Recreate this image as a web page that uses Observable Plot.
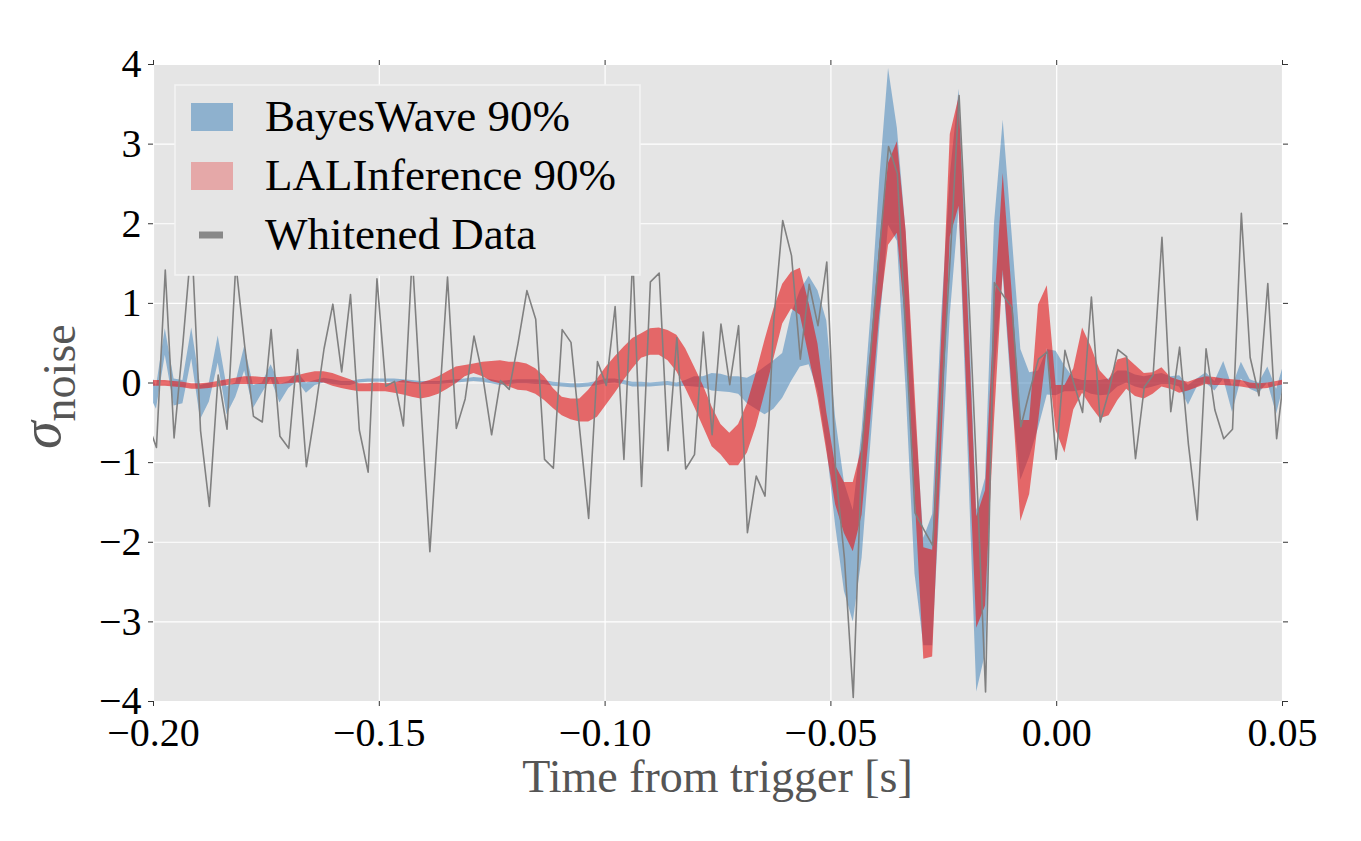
<!DOCTYPE html>
<html><head><meta charset="utf-8">
<script src="https://cdn.jsdelivr.net/npm/d3@7"></script>
<script src="https://cdn.jsdelivr.net/npm/@observablehq/plot@0.6"></script>
<style>body{margin:0;background:#fff;} #chart{width:1361px;height:841px;}</style>
</head><body><div id="chart"></div>
<script>
// Sampling of the whitened strain (512 Hz), first sample just left of the window
const sampleRate = 512;
const firstSampleTime = -0.2013;

const whitened = [
 -0.5, -0.81, 1.42, -0.69, 0.5, 1.8, -0.6, -1.55, 0.10, -0.58,
 1.5, 0.47, -0.42, -0.49, 0.67, -0.67, -0.82, 0.42, -1.05, -0.35,
 0.43, 0.99, 0.14, 1.11, -0.59, -1.12, 1.31, -0.04, 0.02, -0.54,
 1.6, -0.3, -2.12, -0.39, 1.33, -0.57, -0.2, 0.59, 0.08, -0.65,
 0.03, -0.08, 0.5, 1.16, 0.8, -0.96, -1.07, 0.67, 0.51, -0.6,
 -1.70, 0.27, -0.03, 0.96, -0.96, 1.6, -1.30, 1.27, 1.38, -0.85,
 0.57, -1.08, -0.9, 0.64, -0.65, 0.74, -0.02, 0.72, -1.88, -1.17,
 -1.42, 0.8, 2.04, 1.60, 0.30, 1.24, 0.72, 1.52, -1.1, -2.2,
 -3.95, -0.8, 0.42, 1.7, 2.97, 2.63, 0.5, -1.63, -1.84, -2.04,
 -0.22, 1.59, 3.61, 1.36, -1.16, -3.88, 1.26, 1.1, 0.95, -0.55,
 -0.1, 0.30, 0.39, -0.96, 0.41, 0.0, -0.37, 1.08, -0.49, -0.1,
 0.42, 0.33, -0.95, -0.05, 0.1, 1.83, -0.36, 0.45, -0.77, -1.72,
 0.43, -0.34, -0.70, -0.58, 2.13, 0.32, -0.16, 1.25, -0.70, 0.25
];

const bayesWaveLower = [
 -0.10, -0.33, 0.35, -0.29, -0.26, 0.30, -0.46, -0.24, 0.25, -0.40,
 -0.18, 0.15, -0.32, -0.13, 0.05, -0.25, -0.07, 0.02, -0.13, -0.03,
 0.00, -0.02, -0.03, -0.03, 0.00, 0.01, 0.01, 0.01, 0.01, 0.00,
 -0.01, -0.02, -0.02, -0.02, -0.01, 0.00, 0.01, 0.02, 0.01, -0.01,
 -0.03, -0.02, -0.01, -0.01, -0.02, -0.02, -0.04, -0.05, -0.06, -0.06,
 -0.05, -0.03, -0.01, 0.00, -0.02, -0.05, -0.05, -0.05, -0.04, -0.03,
 -0.05, -0.04, -0.05, -0.06, -0.10, -0.11, -0.12, -0.14, -0.26, -0.33,
 -0.40, -0.33, -0.19, 0.02, 0.20, 0.23, -0.10, -0.80, -1.79, -2.62,
 -3.00, -2.20, -0.75, 0.69, 1.98, 1.78, -0.10, -2.40, -3.30, -3.30,
 -1.20, 0.85, 2.19, -0.80, -3.88, -3.40, 0.02, 1.36, -0.20, -1.22,
 -0.93, -0.57, -0.15, -0.16, -0.11, -0.11, -0.09, -0.14, -0.16, -0.15,
 -0.05, 0.00, -0.05, -0.08, -0.05, -0.02, -0.02, -0.05, -0.28, -0.05,
 0.00, -0.10, 0.05, -0.37, 0.05, -0.08, -0.13, 0.00, -0.39, 0.05
];

const bayesWaveUpper = [
 0.25, -0.05, 0.68, 0.05, 0.03, 0.69, -0.03, 0.00, 0.59, -0.05,
 0.00, 0.46, -0.03, 0.00, 0.23, -0.02, 0.02, 0.13, 0.00, 0.03,
 0.06, 0.04, 0.02, 0.02, 0.04, 0.05, 0.05, 0.05, 0.05, 0.04,
 0.03, 0.02, 0.02, 0.02, 0.03, 0.04, 0.05, 0.07, 0.06, 0.04,
 0.02, 0.03, 0.04, 0.04, 0.04, 0.03, 0.01, 0.00, -0.01, -0.01,
 0.00, 0.02, 0.05, 0.05, 0.03, 0.01, 0.01, 0.00, 0.01, 0.02,
 0.00, 0.03, 0.08, 0.08, 0.12, 0.11, 0.08, 0.08, 0.06, 0.12,
 0.20, 0.28, 0.37, 0.86, 1.16, 1.34, 1.16, 0.78, -0.44, -1.25,
 -1.60, -0.60, 0.85, 2.55, 3.95, 3.20, 1.88, -0.30, -1.95, -1.65,
 0.80, 2.60, 3.69, 1.30, -1.60, -1.20, 1.98, 3.30, 1.88, 0.42,
 0.13, 0.15, 0.42, 0.40, 0.21, 0.06, 0.03, 0.03, 0.03, 0.05,
 0.15, 0.15, 0.10, 0.08, 0.10, 0.12, 0.08, 0.09, -0.03, 0.05,
 0.13, 0.02, 0.27, -0.05, 0.26, 0.04, 0.00, 0.20, -0.08, 0.30
];

const lalInferenceLower = [
 -0.04, -0.04, -0.04, -0.05, -0.06, -0.08, -0.08, -0.07, -0.05, -0.03,
 -0.02, -0.02, -0.02, -0.02, -0.02, -0.02, -0.01, 0.00, 0.01, 0.01,
 0.00, -0.04, -0.07, -0.09, -0.11, -0.11, -0.11, -0.11, -0.13, -0.15,
 -0.18, -0.20, -0.18, -0.14, -0.08, -0.01, 0.08, 0.12, 0.08, 0.02,
 -0.01, -0.05, -0.09, -0.10, -0.14, -0.22, -0.32, -0.41, -0.46, -0.49,
 -0.49, -0.43, -0.28, -0.13, 0.03, 0.18, 0.31, 0.35, 0.35, 0.28,
 0.14, -0.07, -0.30, -0.55, -0.80, -0.90, -1.04, -1.04, -0.88, -0.55,
 -0.13, 0.30, 0.74, 0.93, 0.85, 0.33, -0.19, -0.86, -1.53, -1.89,
 -2.12, -1.66, -0.44, 0.85, 1.73, 1.88, 0.69, -1.40, -3.47, -3.44,
 -0.86, 1.83, 2.22, -0.43, -3.08, -2.80, -0.50, 1.42, -0.08, -1.74,
 -1.40, -0.50, 0.43, -0.60, -0.88, -0.34, -0.13, -0.30, -0.45, -0.41,
 -0.22, -0.08, -0.17, -0.20, -0.14, -0.05, -0.08, -0.13, -0.10, -0.06,
 -0.02, -0.03, -0.03, -0.04, -0.05, -0.07, -0.08, -0.07, -0.04, -0.02
];

const lalInferenceUpper = [
 0.03, 0.03, 0.03, 0.02, 0.01, -0.01, -0.01, 0.00, 0.02, 0.04,
 0.06, 0.08, 0.08, 0.07, 0.07, 0.07, 0.08, 0.09, 0.12, 0.14,
 0.14, 0.12, 0.08, 0.04, -0.01, -0.01, 0.00, -0.01, 0.00, 0.03,
 0.01, 0.00, 0.03, 0.08, 0.14, 0.20, 0.22, 0.24, 0.26, 0.27,
 0.28, 0.26, 0.26, 0.24, 0.18, 0.08, -0.07, -0.18, -0.20, -0.20,
 -0.09, 0.05, 0.20, 0.33, 0.45, 0.56, 0.62, 0.68, 0.69, 0.66,
 0.60, 0.43, 0.20, -0.03, -0.30, -0.52, -0.63, -0.52, -0.26, 0.12,
 0.54, 0.93, 1.24, 1.39, 1.44, 1.00, 0.49, -0.37, -1.04, -1.25,
 -1.25, -0.81, 0.43, 1.73, 2.76, 3.03, 1.90, -0.10, -2.07, -2.10,
 0.49, 3.12, 3.59, 1.00, -1.68, -1.35, 0.90, 2.63, 1.16, -0.47,
 -0.47, 0.98, 1.22, -0.03, -0.03, 0.18, 0.69, 0.45, 0.15, 0.03,
 0.29, 0.32, 0.22, 0.12, 0.13, 0.19, 0.07, 0.03, 0.01, 0.05,
 0.08, 0.07, 0.05, 0.04, 0.03, 0.00, -0.01, 0.00, 0.02, 0.04
];

const xTicks = [-0.20, -0.15, -0.10, -0.05, 0.00, 0.05];
const yTicks = [-4, -3, -2, -1, 0, 1, 2, 3, 4];
const legendLabels = ["BayesWave 90%", "LALInference 90%", "Whitened Data"];
const xLabel = "Time from trigger [s]";

const rows = whitened.map((v, i) => ({
  t: firstSampleTime + i / sampleRate,
  data: v,
  bwLo: bayesWaveLower[i], bwHi: bayesWaveUpper[i],
  liLo: lalInferenceLower[i], liHi: lalInferenceUpper[i]
}));

const minus = s => s.replace("-", "\u2212");
const serif = "'Liberation Serif', 'DejaVu Serif', serif";

const plot = Plot.plot({
  width: 1361, height: 841,
  marginLeft: 153, marginRight: 79, marginTop: 64, marginBottom: 140,
  x: {domain: [-0.2, 0.05]},
  y: {domain: [-4, 4]},
  style: {fontFamily: serif, fontSize: "40px", background: "white", color: "black"},
  marks: [
    Plot.frame({fill: "#e5e5e5", stroke: null}),
    Plot.gridX(xTicks, {stroke: "white", strokeOpacity: 1, strokeWidth: 1.2}),
    Plot.gridY(yTicks, {stroke: "white", strokeOpacity: 1, strokeWidth: 1.2}),
    Plot.areaY(rows, {x: "t", y1: "bwLo", y2: "bwHi", fill: "#377eb8", fillOpacity: 0.5, clip: true}),
    Plot.areaY(rows, {x: "t", y1: "liLo", y2: "liHi", fill: "#e41a1c", fillOpacity: 0.62, clip: true}),
    Plot.line(rows, {x: "t", y: "data", stroke: "#808080", strokeWidth: 1.6, clip: true}),
    Plot.axisX(xTicks, {anchor: "bottom", tickSize: 5, tickPadding: 11, stroke: "#333",
      tickFormat: d => minus(d.toFixed(2)), label: null, fontSize: 40}),
    Plot.axisX(xTicks, {anchor: "top", tickSize: 5, stroke: "#333", tickFormat: () => "", label: null}),
    Plot.axisY(yTicks, {anchor: "left", tickSize: 5, tickPadding: 7, stroke: "#333",
      tickFormat: d => minus(String(d)), label: null, fontSize: 40}),
    Plot.axisY(yTicks, {anchor: "right", tickSize: 5, stroke: "#333", tickFormat: () => "", label: null})
  ]
});

document.getElementById("chart").appendChild(plot);
const svg = d3.select(plot);

// x label
svg.append("text").attr("x", 717.5).attr("y", 792).attr("text-anchor", "middle")
  .attr("font-family", serif).attr("font-size", 46).attr("fill", "#555").text(xLabel);

// y label  sigma_noise
const yl = svg.append("text").attr("transform", "translate(60,449) rotate(-90)")
  .attr("text-anchor", "start")
  .attr("font-family", serif).attr("fill", "#555");
yl.append("tspan").attr("font-style", "italic").attr("font-size", 56).text("\u03c3");
yl.append("tspan").attr("dy", 15).attr("font-size", 46).text("noise");

// legend
const lg = svg.append("g");
lg.append("rect").attr("x", 175).attr("y", 85).attr("width", 465).attr("height", 190)
  .attr("fill", "#e5e5e5").attr("stroke", "#f4f4f4").attr("stroke-width", 1.5);
lg.append("rect").attr("x", 191).attr("y", 103).attr("width", 42).attr("height", 28)
  .attr("fill", "#377eb8").attr("fill-opacity", 0.5);
lg.append("rect").attr("x", 191).attr("y", 162).attr("width", 42).attr("height", 28)
  .attr("fill", "#e41a1c").attr("fill-opacity", 0.3);
lg.append("line").attr("x1", 199).attr("x2", 223).attr("y1", 235).attr("y2", 235)
  .attr("stroke", "#888").attr("stroke-width", 7);
[131, 190, 249].forEach((yy, i) => {
  lg.append("text").attr("x", 265).attr("y", yy).attr("text-anchor", "start")
    .attr("font-family", serif)
    .attr("font-size", 45).attr("fill", "black").text(legendLabels[i]);
});
</script>
</body></html>
